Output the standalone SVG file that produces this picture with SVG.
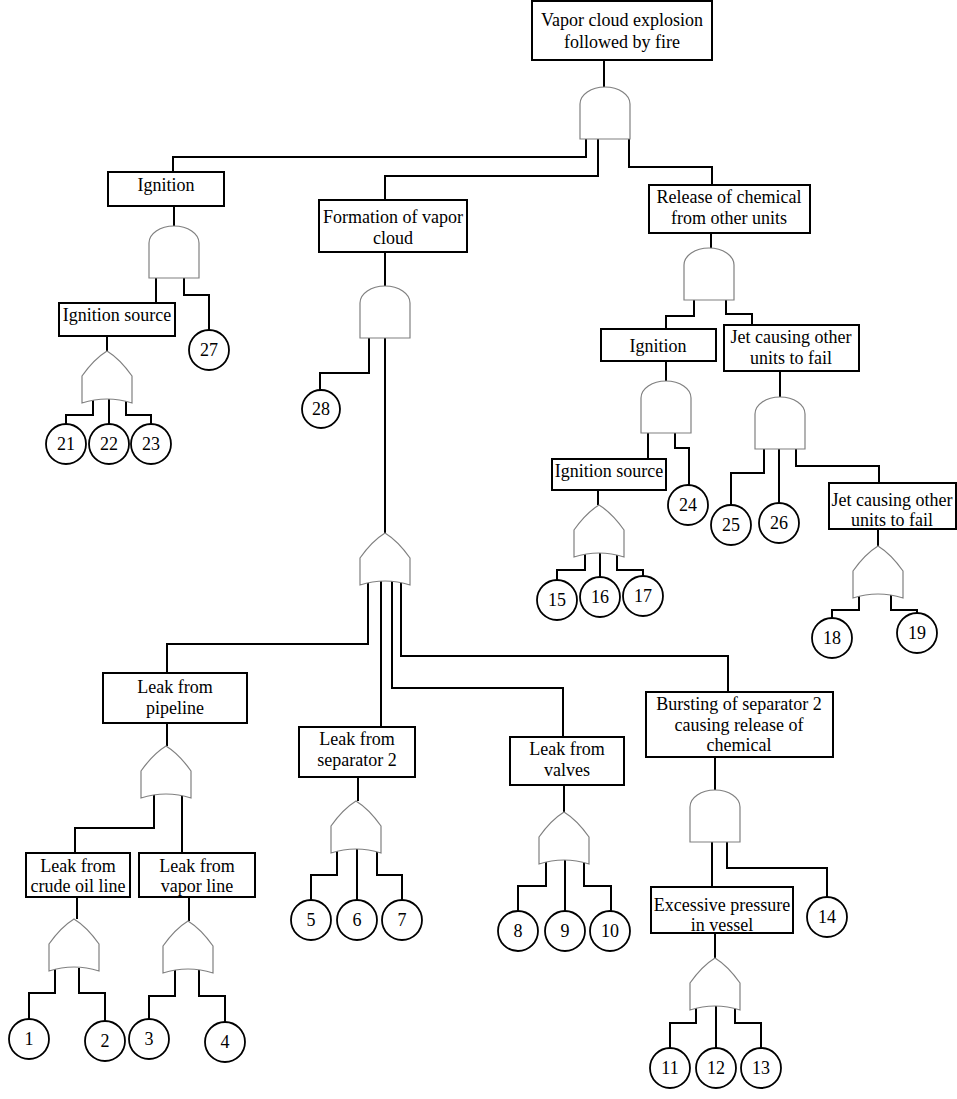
<svg xmlns="http://www.w3.org/2000/svg" xmlns:xlink="http://www.w3.org/1999/xlink" width="957" height="1099" viewBox="0 0 957 1099">
<style>
.box{fill:#fff;stroke:#000;stroke-width:2}
.gate{fill:#fff;stroke:#808080;stroke-width:1.2}
.ev{fill:#fff;stroke:#000;stroke-width:1.8}
.wire{fill:none;stroke:#000;stroke-width:2}
text{font-family:"Liberation Serif","Times New Roman",serif;font-size:18px;text-anchor:middle;fill:#000}
</style>
<defs>
<path id="and" class="gate" d="M0,52 V17 A25 17 0 0 1 50,17 V52 Z"/>
<path id="or" class="gate" d="M25,0 Q38,8 50,25 V52 Q25,44 0,52 V25 Q12,8 25,0 Z"/>
</defs>
<rect width="957" height="1099" fill="#fff"/>
<g id="connectors">
<path class="wire" d="M604,60 V87"/>
<path class="wire" d="M586,138 V157 H173 V172"/>
<path class="wire" d="M598,138 V176 H385 V200"/>
<path class="wire" d="M629,136 V167 H712 V185"/>
<path class="wire" d="M174,206 V226"/>
<path class="wire" d="M156,276 V303"/>
<path class="wire" d="M184,276 V295 H209 V330"/>
<path class="wire" d="M107,336 V351"/>
<path class="wire" d="M93,400 V415 H66 V425"/>
<path class="wire" d="M109,398 V425"/>
<path class="wire" d="M126,400 V415 H151 V425"/>
<path class="wire" d="M385,252 V286"/>
<path class="wire" d="M369,336 V373 H320 V390"/>
<path class="wire" d="M385,336 V533"/>
<path class="wire" d="M368,581 V644 H167 V673"/>
<path class="wire" d="M381,580 V727"/>
<path class="wire" d="M392,580 V688 H563 V737"/>
<path class="wire" d="M401,581 V656 H728 V692"/>
<path class="wire" d="M167,723 V746"/>
<path class="wire" d="M154,794 V828 H75 V853"/>
<path class="wire" d="M182,794 V853"/>
<path class="wire" d="M77,897 V919"/>
<path class="wire" d="M55,968 V993 H29 V1020"/>
<path class="wire" d="M79,968 V993 H105 V1022"/>
<path class="wire" d="M189,897 V921"/>
<path class="wire" d="M175,970 V996 H149 V1021"/>
<path class="wire" d="M199,970 V996 H225 V1023"/>
<path class="wire" d="M358,777 V801"/>
<path class="wire" d="M337,849 V875 H311 V900"/>
<path class="wire" d="M357,847 V900"/>
<path class="wire" d="M377,849 V875 H402 V900"/>
<path class="wire" d="M564,785 V812"/>
<path class="wire" d="M546,860 V886 H518 V912"/>
<path class="wire" d="M565,858 V912"/>
<path class="wire" d="M584,860 V886 H611 V912"/>
<path class="wire" d="M715,757 V790"/>
<path class="wire" d="M712,840 V887"/>
<path class="wire" d="M727,840 V868 H827 V898"/>
<path class="wire" d="M715,933 V958"/>
<path class="wire" d="M696,1006 V1023 H670 V1048"/>
<path class="wire" d="M716,1004 V1048"/>
<path class="wire" d="M735,1006 V1023 H761 V1048"/>
<path class="wire" d="M711,233 V248"/>
<path class="wire" d="M694,298 V316 H666 V329"/>
<path class="wire" d="M726,298 V314 H752 V325"/>
<path class="wire" d="M666,361 V381"/>
<path class="wire" d="M648,431 V459"/>
<path class="wire" d="M675,431 V448 H689 V485"/>
<path class="wire" d="M598,490 V505"/>
<path class="wire" d="M585,554 V570 H557 V580"/>
<path class="wire" d="M600,552 V577"/>
<path class="wire" d="M617,554 V570 H643 V580"/>
<path class="wire" d="M780,371 V397"/>
<path class="wire" d="M764,447 V473 H731 V505"/>
<path class="wire" d="M779,447 V504"/>
<path class="wire" d="M796,447 V466 H879 V483"/>
<path class="wire" d="M878,529 V546"/>
<path class="wire" d="M859,594 V610 H832 V619"/>
<path class="wire" d="M891,594 V610 H917 V613"/>
</g>
<g id="top"><rect class="box" x="532" y="1" width="180" height="59"/><text x="622" y="26">Vapor cloud explosion</text><text x="622" y="48">followed by fire</text></g>
<g id="g-top"><use href="#and" x="580" y="87"/></g>
<g id="ignition1"><rect class="box" x="108" y="172" width="116" height="34"/><text x="166" y="191">Ignition</text></g>
<g id="g-ign1"><use href="#and" x="149" y="226"/></g>
<g id="ignsrc1"><rect class="box" x="59" y="303" width="116" height="33"/><text x="117" y="321">Ignition source</text></g>
<g id="g-ignsrc1"><use href="#or" x="82" y="351"/></g>
<g id="e27"><circle class="ev" cx="209" cy="350" r="20"/><text x="209" y="356">27</text></g>
<g id="e21"><circle class="ev" cx="66" cy="444" r="20"/><text x="66" y="450">21</text></g>
<g id="e22"><circle class="ev" cx="109" cy="444" r="20"/><text x="109" y="450">22</text></g>
<g id="e23"><circle class="ev" cx="151" cy="444" r="20"/><text x="151" y="450">23</text></g>
<g id="formation"><rect class="box" x="319" y="200" width="148" height="52"/><text x="393" y="223">Formation of vapor</text><text x="393" y="244">cloud</text></g>
<g id="g-form"><use href="#and" x="360" y="286"/></g>
<g id="e28"><circle class="ev" cx="321" cy="409" r="19"/><text x="321" y="415">28</text></g>
<g id="g-leak"><use href="#or" x="360" y="533"/></g>
<g id="pipeline"><rect class="box" x="103" y="673" width="144" height="50"/><text x="175" y="693">Leak from</text><text x="175" y="714">pipeline</text></g>
<g id="g-pipe"><use href="#or" x="141" y="746"/></g>
<g id="crude"><rect class="box" x="26" y="853" width="104" height="44"/><text x="78" y="872">Leak from</text><text x="78" y="892">crude oil line</text></g>
<g id="vaporline"><rect class="box" x="139" y="853" width="116" height="44"/><text x="197" y="872">Leak from</text><text x="197" y="892">vapor line</text></g>
<g id="g-crude"><use href="#or" x="49" y="919"/></g>
<g id="g-vapor"><use href="#or" x="163" y="921"/></g>
<g id="e1"><circle class="ev" cx="29" cy="1039" r="20"/><text x="29" y="1045">1</text></g>
<g id="e2"><circle class="ev" cx="105" cy="1041" r="20"/><text x="105" y="1047">2</text></g>
<g id="e3"><circle class="ev" cx="149" cy="1039" r="20"/><text x="149" y="1045">3</text></g>
<g id="e4"><circle class="ev" cx="225" cy="1042" r="20"/><text x="225" y="1048">4</text></g>
<g id="separator"><rect class="box" x="299" y="727" width="116" height="50"/><text x="357" y="745">Leak from</text><text x="357" y="766">separator 2</text></g>
<g id="g-sep"><use href="#or" x="331" y="801"/></g>
<g id="e5"><circle class="ev" cx="311" cy="920" r="20"/><text x="311" y="926">5</text></g>
<g id="e6"><circle class="ev" cx="357" cy="920" r="20"/><text x="357" y="926">6</text></g>
<g id="e7"><circle class="ev" cx="402" cy="920" r="20"/><text x="402" y="926">7</text></g>
<g id="valves"><rect class="box" x="510" y="737" width="114" height="48"/><text x="567" y="755">Leak from</text><text x="567" y="776">valves</text></g>
<g id="g-valves"><use href="#or" x="539" y="812"/></g>
<g id="e8"><circle class="ev" cx="518" cy="931" r="20"/><text x="518" y="937">8</text></g>
<g id="e9"><circle class="ev" cx="565" cy="931" r="20"/><text x="565" y="937">9</text></g>
<g id="e10"><circle class="ev" cx="610" cy="931" r="20"/><text x="610" y="937">10</text></g>
<g id="bursting"><rect class="box" x="646" y="692" width="187" height="65"/><text x="739" y="710">Bursting of separator 2</text><text x="739" y="731">causing release of</text><text x="739" y="751">chemical</text></g>
<g id="g-burst"><use href="#and" x="690" y="790"/></g>
<g id="e14"><circle class="ev" cx="827" cy="917" r="20"/><text x="827" y="923">14</text></g>
<g id="excessive"><rect class="box" x="651" y="887" width="142" height="46"/><text x="722" y="911">Excessive pressure</text><text x="722" y="931">in vessel</text></g>
<g id="g-exc"><use href="#or" x="690" y="958"/></g>
<g id="e11"><circle class="ev" cx="670" cy="1068" r="20"/><text x="670" y="1074">11</text></g>
<g id="e12"><circle class="ev" cx="716" cy="1068" r="20"/><text x="716" y="1074">12</text></g>
<g id="e13"><circle class="ev" cx="761" cy="1068" r="20"/><text x="761" y="1074">13</text></g>
<g id="release"><rect class="box" x="649" y="185" width="161" height="48"/><text x="729" y="203">Release of chemical</text><text x="729" y="224">from other units</text></g>
<g id="g-rel"><use href="#and" x="684" y="248"/></g>
<g id="ignition2"><rect class="box" x="601" y="329" width="115" height="32"/><text x="658" y="352">Ignition</text></g>
<g id="jet1"><rect class="box" x="724" y="325" width="135" height="46"/><text x="791" y="343">Jet causing other</text><text x="791" y="364">units to fail</text></g>
<g id="g-ign2"><use href="#and" x="641" y="381"/></g>
<g id="ignsrc2"><rect class="box" x="552" y="459" width="114" height="31"/><text x="609" y="477">Ignition source</text></g>
<g id="e24"><circle class="ev" cx="688" cy="505" r="20"/><text x="688" y="511">24</text></g>
<g id="g-ignsrc2"><use href="#or" x="574" y="505"/></g>
<g id="e15"><circle class="ev" cx="557" cy="600" r="20"/><text x="557" y="606">15</text></g>
<g id="e16"><circle class="ev" cx="600" cy="597" r="20"/><text x="600" y="603">16</text></g>
<g id="e17"><circle class="ev" cx="643" cy="596" r="20"/><text x="643" y="602">17</text></g>
<g id="g-jet1"><use href="#and" x="755" y="397"/></g>
<g id="e25"><circle class="ev" cx="731" cy="525" r="20"/><text x="731" y="531">25</text></g>
<g id="e26"><circle class="ev" cx="779" cy="523" r="20"/><text x="779" y="529">26</text></g>
<g id="jet2"><rect class="box" x="829" y="483" width="127" height="46"/><text x="892" y="506">Jet causing other</text><text x="892" y="526">units to fail</text></g>
<g id="g-jet2"><use href="#or" x="853" y="546"/></g>
<g id="e18"><circle class="ev" cx="832" cy="638" r="20"/><text x="832" y="644">18</text></g>
<g id="e19"><circle class="ev" cx="917" cy="633" r="20"/><text x="917" y="639">19</text></g>
</svg>
